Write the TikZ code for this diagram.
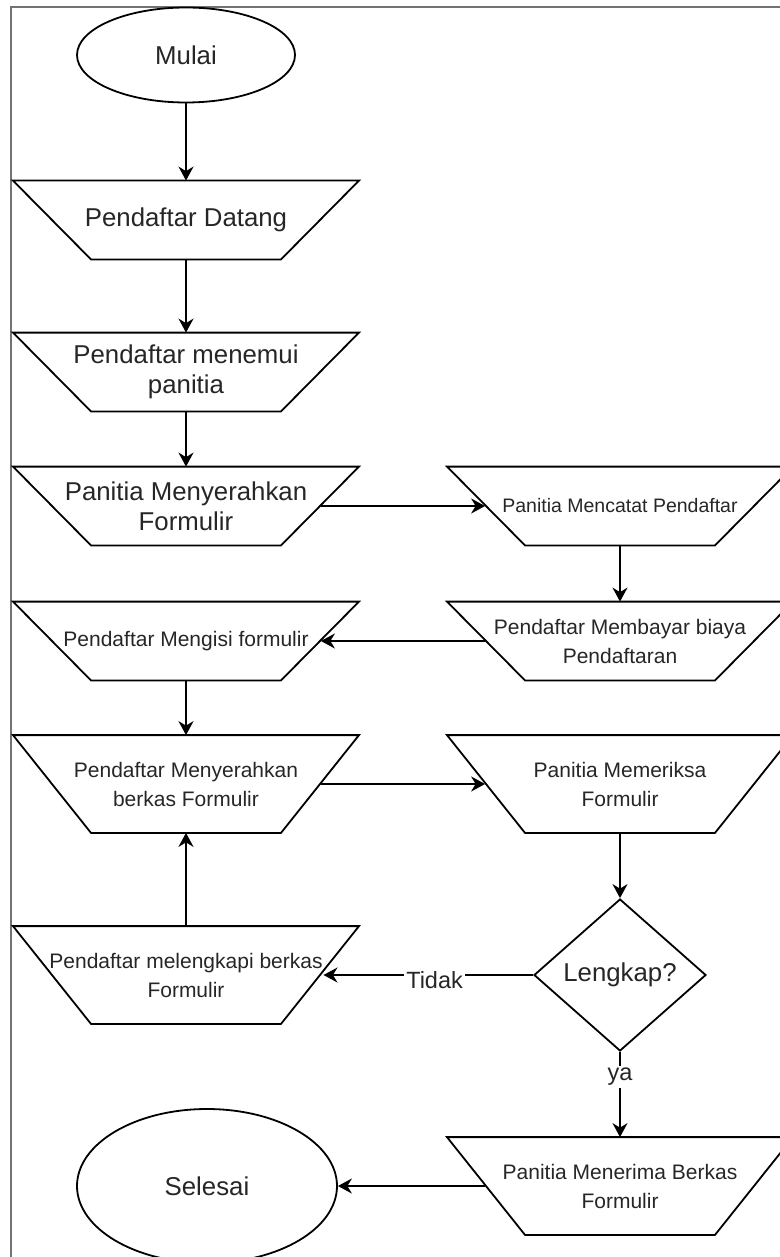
\documentclass[tikz,border=0pt]{standalone}
\usepackage{fontspec}
\setmainfont{Liberation Sans}
\usetikzlibrary{shapes.geometric,arrows.meta}

\begin{document}
\begin{tikzpicture}[x=0.5pt,y=-0.5pt,line width=0.9pt,
  >={Stealth[length=7pt,width=7.5pt]},
  every node/.style={inner sep=0pt,text=black!85},
  big/.style={font=\fontsize{12.9}{15}\selectfont,align=center},
  small/.style={font=\fontsize{10.5}{14.5}\selectfont,align=center},
  term/.style={ellipse,draw,big},
  trap/.style={minimum width=134pt,minimum height=#1,
    append after command={\pgfextra{\draw ([xshift=-86.5pt]\tikzlastnode.north)
      -- ([xshift=86.5pt]\tikzlastnode.north) -- ([xshift=47.5pt]\tikzlastnode.south)
      -- ([xshift=-47.5pt]\tikzlastnode.south) -- cycle;}}},
  trap/.default=38.5pt,
  lbl/.style={fill=white,inner sep=1pt,font=\fontsize{11.75}{14}\selectfont}]
\useasboundingbox (0,0) rectangle (780,1257);
\draw[black!55,line width=1pt] (11,7) rectangle (800,1300);
% left column
\node (mulai) at (186,55) [term,minimum width=109pt,minimum height=47.5pt] {Mulai};
\node (datang) at (186,220) [trap,big] {Pendaftar Datang};
\node (temui) at (186,372) [trap,big] {Pendaftar menemui\\panitia};
\node (serah) at (186,506) [trap,big] {Panitia Menyerahkan\\Formulir};
\node (isi) at (186,641) [trap,small] {Pendaftar Mengisi formulir};
\node (berkas) at (186,784) [trap=48pt,small] {Pendaftar Menyerahkan\\berkas Formulir};
\node (lengkapi) at (186,975) [trap=48pt,small] {Pendaftar melengkapi berkas\\Formulir};
\node (selesai) at (207,1186) [term,minimum width=130pt,minimum height=77pt] {Selesai};
% right column
\node (catat) at (620,506) [trap,small,font=\fontsize{9.75}{12}\selectfont] {Panitia Mencatat Pendaftar};
\node (bayar) at (620,641) [trap,small] {Pendaftar Membayar biaya\\Pendaftaran};
\node (periksa) at (620,784) [trap=48pt,small] {Panitia Memeriksa\\Formulir};
\node (cek) at (620,975) [diamond,draw,big,minimum width=86pt,minimum height=76pt] {Lengkap?};
\node (terima) at (620,1186) [trap=48pt,small] {Panitia Menerima Berkas\\Formulir};
% arrows
\draw[->] (mulai) -- (datang);
\draw[->] (datang) -- (temui);
\draw[->] (temui) -- (serah);
\draw[->] (serah) -- (catat);
\draw[->] (catat) -- (bayar);
\draw[->] (bayar) -- (isi);
\draw[->] (isi) -- (berkas);
\draw[->] (berkas) -- (periksa);
\draw[->] (periksa) -- (cek);
\draw[->] (cek) -- node[lbl,pos=0.47,yshift=-2.5pt] {Tidak} (lengkapi);
\draw[->] (lengkapi) -- (berkas);
\draw[->] (cek) -- node[lbl,pos=0.27,yshift=-1pt] {ya} (terima);
\draw[->] (terima) -- (selesai);
\end{tikzpicture}
\end{document}
